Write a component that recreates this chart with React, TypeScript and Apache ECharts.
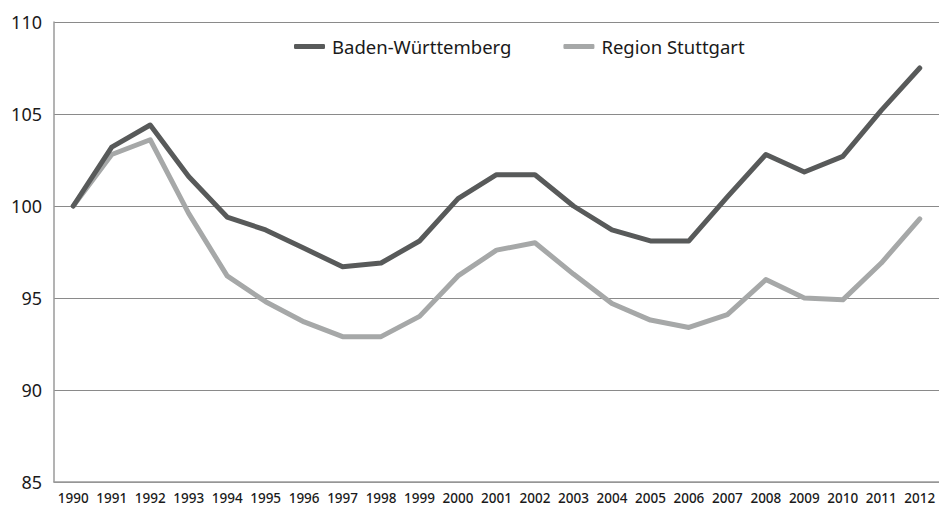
import React, { useEffect, useRef } from "react";
import * as echarts from "echarts";

const years = ["1990","1991","1992","1993","1994","1995","1996","1997","1998","1999","2000","2001","2002","2003","2004","2005","2006","2007","2008","2009","2010","2011","2012"];
const badenWuerttemberg = [100, 103.2, 104.4, 101.6, 99.4, 98.7, 97.7, 96.7, 96.9, 98.1, 100.4, 101.7, 101.7, 100.0, 98.7, 98.1, 98.1, 100.5, 102.8, 101.85, 102.7, 105.2, 107.5];
const regionStuttgart = [100, 102.8, 103.6, 99.6, 96.2, 94.8, 93.7, 92.9, 92.9, 94.0, 96.2, 97.6, 98.0, 96.3, 94.7, 93.8, 93.4, 94.1, 96.0, 95.0, 94.9, 96.9, 99.3];
const seriesNames = ["Baden-Württemberg", "Region Stuttgart"];
const yMin = 85;
const yMax = 110;
const yStep = 5;

const FONT = "'Noto Sans', 'DejaVu Sans', sans-serif";

export default function App() {
  const ref = useRef<HTMLDivElement>(null);
  useEffect(() => {
    document.body.style.margin = "0";
    const chart = echarts.init(ref.current!, null, { renderer: "svg" });
    chart.setOption({
      animation: false,
      backgroundColor: "#ffffff",
      textStyle: { fontFamily: FONT },
      legend: {
        top: 32,
        left: 289,
        itemWidth: 31,
        itemHeight: 5,
        itemGap: 52,
        icon: "roundRect",
        textStyle: { fontSize: 18.5, color: "#1a1a1a", fontFamily: FONT, padding: [0, 0, 0, 2] },
        data: seriesNames,
      },
      grid: { left: 54, right: -2, top: 22, bottom: 27, containLabel: false },
      xAxis: {
        type: "category",
        data: years,
        boundaryGap: true,
        axisLine: { show: true, lineStyle: { color: "#9a9a9a", width: 1.5 } },
        axisTick: { show: false },
        axisLabel: { interval: 0, fontSize: 13.5, fontWeight: 500, color: "#1a1a1a", margin: 9, fontFamily: FONT },
      },
      yAxis: {
        type: "value",
        min: yMin,
        max: yMax,
        interval: yStep,
        axisLine: { show: true, lineStyle: { color: "#9a9a9a", width: 1.5 } },
        axisTick: { show: false },
        splitLine: { show: true, lineStyle: { color: "#8a8a8a", width: 1 } },
        axisLabel: { fontSize: 18, color: "#1a1a1a", margin: 12, fontFamily: FONT },
      },
      series: [
        {
          name: seriesNames[0],
          type: "line",
          data: badenWuerttemberg,
          symbol: "none",
          lineStyle: { color: "#585a5a", width: 5, cap: "round", join: "round" },
          itemStyle: { color: "#585a5a" },
          z: 3,
        },
        {
          name: seriesNames[1],
          type: "line",
          data: regionStuttgart,
          symbol: "none",
          lineStyle: { color: "#a6a8a8", width: 5, cap: "round", join: "round" },
          itemStyle: { color: "#a6a8a8" },
          z: 2,
        },
      ],
    });
    return () => chart.dispose();
  }, []);
  return <div ref={ref} style={{ width: 939, height: 509 }} />;
}
